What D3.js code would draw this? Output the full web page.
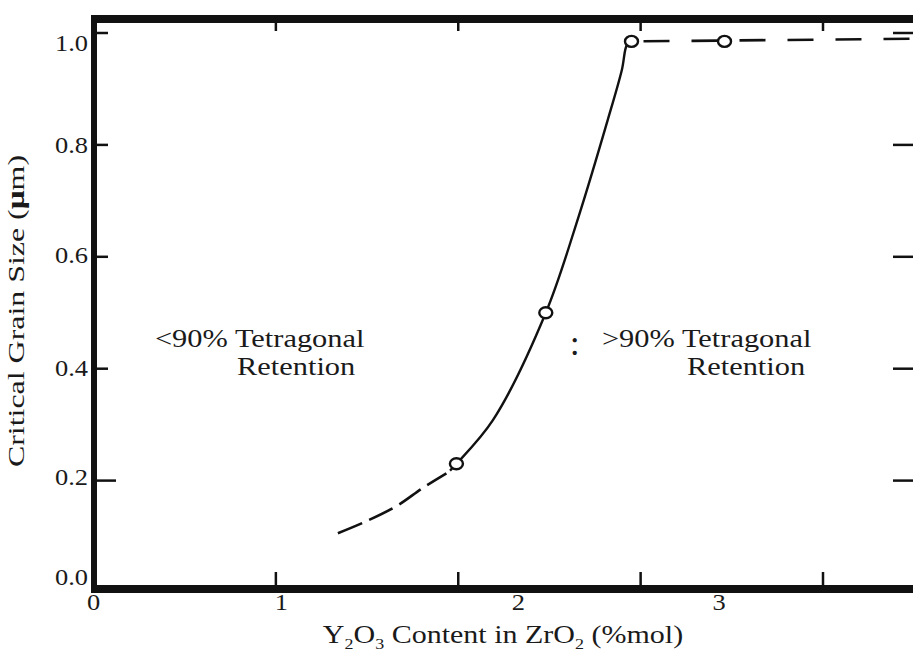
<!DOCTYPE html>
<html>
<head>
<meta charset="utf-8">
<script src="https://cdn.jsdelivr.net/npm/d3@7"></script>
<style>
  html, body { margin: 0; padding: 0; background: #fff; }
  svg { display: block; }
  text { font-family: "Liberation Serif", "Times New Roman", serif; fill: #1a1a1a; }
</style>
</head>
<body>
<svg id="chart" width="913" height="653"></svg>
<script>
// Measured points: Y2O3 content (mol%) vs critical grain size (µm)
const measuredX = [1.99, 2.48, 2.95, 3.46];
const measuredY = [0.23, 0.50, 0.985, 0.985];

// Fitted curve, split into its extrapolated (dashed) and fitted (solid) parts
const lowerDashX = [1.34, 1.50, 1.664, 1.806, 1.935];
const lowerDashY = [0.106, 0.128, 0.155, 0.187, 0.213];
const solidX = [1.955, 1.99, 2.19, 2.48, 2.66, 2.82, 2.897, 2.925, 2.95];
const solidY = [0.218, 0.23, 0.308, 0.50, 0.672, 0.845, 0.934, 0.979, 0.985];
const upperDashX = [2.95, 4.6];
const upperDashY = [0.985, 0.99];

// Axis ticks and their labels
const xTicks = [1, 2, 3, 4];
const xTickLabels = ["0", "1", "2", "3"];
const xTickLabelAt = [0, 1.03, 2.33, 3.43];
const yTicks = [0.2, 0.4, 0.6, 0.8, 1.0];
const yTickLabels = ["0.0", "0.2", "0.4", "0.6", "0.8", "1.0"];
const yTickLabelAt = [0.028, 0.207, 0.401, 0.603, 0.8, 0.982];

// Region annotations
const noteText = ["<90% Tetragonal", "Retention", ">90% Tetragonal", "Retention", ":"];
const noteX = [0.337, 0.787, 2.788, 3.254, 2.612];
const noteY = [0.439, 0.389, 0.439, 0.389, 0.425];

const svg = d3.select("#chart");
const frame = { left: 94, top: 19, right: 925, bottom: 589 };

const x = d3.scaleLinear().domain([0, 4]).range([93.5, 823]);
const y = d3.scaleLinear().domain([0, 1]).range([592.5, 33]);

// Heavy frame (right side falls outside the view)
const ink = "#111";
svg.append("line").attr("x1", frame.left).attr("x2", frame.left)
  .attr("y1", frame.top - 4).attr("y2", frame.bottom + 4)
  .attr("stroke", ink).attr("stroke-width", 6);
svg.append("line").attr("x1", frame.left - 3).attr("x2", frame.right)
  .attr("y1", frame.top).attr("y2", frame.top)
  .attr("stroke", ink).attr("stroke-width", 8);
svg.append("line").attr("x1", frame.left - 3).attr("x2", frame.right)
  .attr("y1", frame.bottom).attr("y2", frame.bottom)
  .attr("stroke", ink).attr("stroke-width", 8);
svg.append("line").attr("x1", frame.right).attr("x2", frame.right)
  .attr("y1", frame.top).attr("y2", frame.bottom)
  .attr("stroke", ink).attr("stroke-width", 8);

// Inward tick marks on all four sides
const tickG = svg.append("g").attr("stroke", ink).attr("stroke-width", 2.5);
tickG.selectAll(".tb").data(xTicks).join("line")
  .attr("x1", d => x(d)).attr("x2", d => x(d))
  .attr("y1", frame.bottom - 4).attr("y2", frame.bottom - 17);
tickG.selectAll(".tt").data(xTicks).join("line")
  .attr("x1", d => x(d)).attr("x2", d => x(d))
  .attr("y1", frame.top + 4).attr("y2", frame.top + 12);
tickG.selectAll(".tl").data(yTicks).join("line")
  .attr("x1", frame.left + 3).attr("x2", d => frame.left + (d === 0.2 ? 22 : 14))
  .attr("y1", d => y(d)).attr("y2", d => y(d));
tickG.selectAll(".tr").data(yTicks).join("line")
  .attr("x1", frame.right - 4).attr("x2", frame.right - 32)
  .attr("y1", d => y(d)).attr("y2", d => y(d));

// Tick labels
svg.append("g").selectAll("text").data(xTickLabels).join("text")
  .attr("transform", (d, i) => `translate(${x(xTickLabelAt[i])},610) scale(1.15,1)`)
  .attr("text-anchor", "middle").attr("font-size", 23)
  .text(d => d);
svg.append("g").selectAll("text").data(yTickLabels).join("text")
  .attr("transform", (d, i) => `translate(88,${y(yTickLabelAt[i])}) scale(1.15,1)`)
  .attr("text-anchor", "end").attr("dy", "0.35em").attr("font-size", 23)
  .text(d => d);

// Curve
const line = d3.line().x(d => x(d[0])).y(d => y(d[1])).curve(d3.curveCatmullRom.alpha(0.5));
const zip = (a, b) => a.map((v, i) => [v, b[i]]);
svg.append("path").datum(zip(lowerDashX, lowerDashY)).attr("d", line)
  .attr("fill", "none").attr("stroke", ink).attr("stroke-width", 2.6)
  .attr("stroke-dasharray", "26,8");
svg.append("path").datum(zip(solidX, solidY)).attr("d", line)
  .attr("fill", "none").attr("stroke", ink).attr("stroke-width", 2.4);
svg.append("path").datum(zip(upperDashX, upperDashY)).attr("d", line)
  .attr("fill", "none").attr("stroke", ink).attr("stroke-width", 2.6)
  .attr("stroke-dasharray", "0,12,26,10");

// Data points
svg.append("g").selectAll("ellipse").data(zip(measuredX, measuredY)).join("ellipse")
  .attr("cx", d => x(d[0])).attr("cy", d => y(d[1]))
  .attr("rx", 6.5).attr("ry", 5.5)
  .attr("fill", "#fff").attr("stroke", ink).attr("stroke-width", 2.4);

// Annotations
svg.append("g").selectAll("text").data(noteText).join("text")
  .attr("transform", (d, i) => `translate(${x(noteX[i])},${y(noteY[i])}) scale(${d === ":" ? 1 : 1.17},1)`)
  .attr("font-size", d => d === ":" ? 36 : 26)
  .attr("fill", d => d === ":" ? "#444" : "#1a1a1a")
  .text(d => d);

// Axis titles
const xt = svg.append("text")
  .attr("transform", "translate(503,643) scale(1.2,1)")
  .attr("text-anchor", "middle").attr("font-size", 25);
xt.append("tspan").text("Y");
xt.append("tspan").attr("dy", 6).attr("font-size", 15).text("2");
xt.append("tspan").attr("dy", -6).text("O");
xt.append("tspan").attr("dy", 6).attr("font-size", 15).text("3");
xt.append("tspan").attr("dy", -6).text(" Content in ZrO");
xt.append("tspan").attr("dy", 6).attr("font-size", 15).text("2");
xt.append("tspan").attr("dy", -6).text(" (%mol)");

const yt = svg.append("text")
  .attr("transform", "translate(24,311) rotate(-90) scale(1.33,1)")
  .attr("text-anchor", "middle").attr("font-size", 24);
yt.append("tspan").text("Critical Grain Size (");
yt.append("tspan").attr("font-weight", "bold").attr("font-size", 25).text("\u03BC");
yt.append("tspan").text("m)");
</script>
</body>
</html>
